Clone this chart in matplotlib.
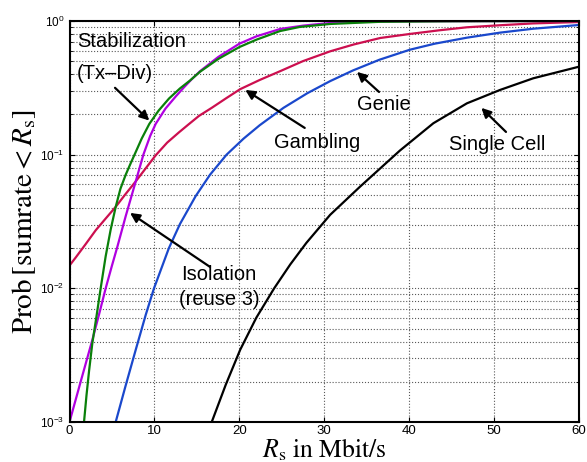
import numpy as np
import matplotlib.pyplot as plt
from matplotlib.ticker import LogLocator, NullFormatter

plt.rcParams['mathtext.fontset'] = 'stix'
plt.rcParams['font.family'] = ['Liberation Sans', 'DejaVu Sans']

# curve values (x in Mbit/s, y = probability)
single_x = [16.75, 18.4, 20.1, 22.0, 24.1, 26.0, 27.9, 30.7, 34.2, 38.9, 42.85, 46.8, 50.7, 54.6, 60.0]
single_y = [0.001, 0.0019, 0.00347, 0.00603, 0.010, 0.0151, 0.0219, 0.0355, 0.0575, 0.1072, 0.1718, 0.2421,
            0.3048, 0.3724, 0.455]

genie_x = [5.44, 6.6, 7.8, 8.97, 9.95, 11.7, 13.0, 14.86, 16.55, 18.5, 20.5, 22.4, 25.2, 28.0, 30.7, 33.4,
           36.5, 40.1, 43.0, 46.8, 50.7, 54.6, 60.0]
genie_y = [0.001, 0.00186, 0.00347, 0.00631, 0.010, 0.01995, 0.0302, 0.049, 0.0708, 0.100, 0.1318, 0.166,
           0.224, 0.288, 0.355, 0.427, 0.513, 0.610, 0.676, 0.750, 0.818, 0.875, 0.933]

gamb_x = [0.0, 0.73, 1.9, 3.09, 4.3, 5.44, 6.6, 7.8, 9.0, 10.15, 11.5, 12.9, 14.0, 15.25, 16.75, 18.4, 20.1,
          22.4, 24.8, 27.5, 30.7, 33.5, 36.6, 40.1, 43.5, 46.8, 50.7, 54.6, 60.0]
gamb_y = [0.0148, 0.0170, 0.0214, 0.0272, 0.0335, 0.0407, 0.0507, 0.0631, 0.0794, 0.0989, 0.1230, 0.1470,
          0.168, 0.195, 0.224, 0.263, 0.309, 0.362, 0.421, 0.501, 0.593, 0.668, 0.746, 0.80, 0.851, 0.897,
          0.929, 0.959, 0.982]

iso_x = [0.0, 1.35, 2.69, 3.5, 4.26, 5.0, 5.63, 6.62, 7.8, 8.7, 9.5, 10.15, 11.3, 12.5, 13.5, 14.4, 15.37,
         17.5, 20.0, 22.0, 24.8, 27.5, 30.7, 33.5, 36.6, 40.0, 60.0]
iso_y = [0.001, 0.00204, 0.00411, 0.00646, 0.010, 0.01479, 0.0204, 0.0347, 0.0631, 0.100, 0.138, 0.170,
         0.221, 0.272, 0.320, 0.367, 0.421, 0.537, 0.676, 0.767, 0.871, 0.923, 0.966, 0.982, 0.991, 0.995, 1.0]

stab_x = [1.71, 2.0, 2.3, 2.69, 3.2, 3.67, 4.26, 4.85, 5.44, 6.0, 6.62, 7.2, 7.8, 8.5, 9.4, 10.5, 11.72,
          13.0, 14.2, 15.37, 17.5, 20.0, 22.0, 24.8, 27.1, 30.7, 36.6, 45.0, 60.0]
stab_y = [0.001, 0.00158, 0.0024, 0.00389, 0.00631, 0.010, 0.01738, 0.02754, 0.0407, 0.0556, 0.0708, 0.0861,
          0.1047, 0.1318, 0.1698, 0.2138, 0.263, 0.3126, 0.359, 0.417, 0.519, 0.638, 0.724, 0.841, 0.902,
          0.950, 0.986, 0.995, 1.0]

fig = plt.figure(figsize=(5.87, 4.62), dpi=100)
ax = fig.add_axes([0.1184, 0.0866, 0.868, 0.868])

lw = 1.6
ax.semilogy(single_x, single_y, color='black', lw=lw)
ax.semilogy(genie_x, genie_y, color='#1a48cc', lw=lw)
ax.semilogy(gamb_x, gamb_y, color='#cc0f4f', lw=lw)
ax.semilogy(iso_x, iso_y, color='#b000e0', lw=lw)
ax.semilogy(stab_x, stab_y, color='#0a800a', lw=lw)

ax.set_xlim(0, 60)
ax.set_ylim(1e-3, 1)
ax.set_xticks([0, 10, 20, 30, 40, 50, 60])
ax.yaxis.set_minor_locator(LogLocator(base=10, subs=np.arange(2, 10)))
ax.yaxis.set_minor_formatter(NullFormatter())
ax.tick_params(which='both', direction='in', top=True, right=True)
ax.tick_params(axis='x', labelsize=9.5, pad=2.5)
ax.tick_params(axis='y', labelsize=8.5)
ax.grid(True, which='major', linestyle=':', color='0.35', lw=0.8)
ax.grid(True, which='minor', axis='y', linestyle=':', color='0.35', lw=0.8)
for s in ax.spines.values():
    s.set_linewidth(1.5)

ax.set_xlabel(r'$R_\mathrm{s}\ \mathrm{in\ Mbit/s}$', fontsize=18.5, labelpad=-1)
ax.set_ylabel(r'$\mathrm{Prob}\,[\mathrm{sumrate} < R_\mathrm{s}]$', fontsize=21, labelpad=2)

arrow = dict(arrowstyle='-|>', color='black', lw=1.6, mutation_scale=14, shrinkA=0, shrinkB=0)
fs = 14.5
ax.text(0.9, 10**-0.155, 'Stabilization', fontsize=fs, va='center', ha='left')
ax.text(0.9, 10**-0.391, '(Tx\u2013Div)', fontsize=fs, va='center', ha='left')
ax.annotate('', xy=(9.4, 10**-0.745), xytext=(5.36, 10**-0.50), arrowprops=arrow)

ax.text(29.15, 10**-0.912, 'Gambling', fontsize=fs, va='center', ha='center')
ax.annotate('', xy=(20.7, 10**-0.516), xytext=(27.7, 10**-0.80), arrowprops=arrow)

ax.text(37.0, 10**-0.628, 'Genie', fontsize=fs, va='center', ha='center')
ax.annotate('', xy=(33.85, 10**-0.381), xytext=(36.45, 10**-0.531), arrowprops=arrow)

ax.text(50.4, 10**-0.927, 'Single Cell', fontsize=fs, va='center', ha='center')
ax.annotate('', xy=(48.5, 10**-0.65), xytext=(51.4, 10**-0.83), arrowprops=arrow)

ax.text(17.6, 10**-1.90, 'Isolation', fontsize=fs, va='center', ha='center')
ax.text(17.6, 10**-2.087, '(reuse 3)', fontsize=fs, va='center', ha='center')
ax.annotate('', xy=(7.13, 10**-1.436), xytext=(16.55, 10**-1.84), arrowprops=arrow)

fig.savefig('out.png', dpi=100)
